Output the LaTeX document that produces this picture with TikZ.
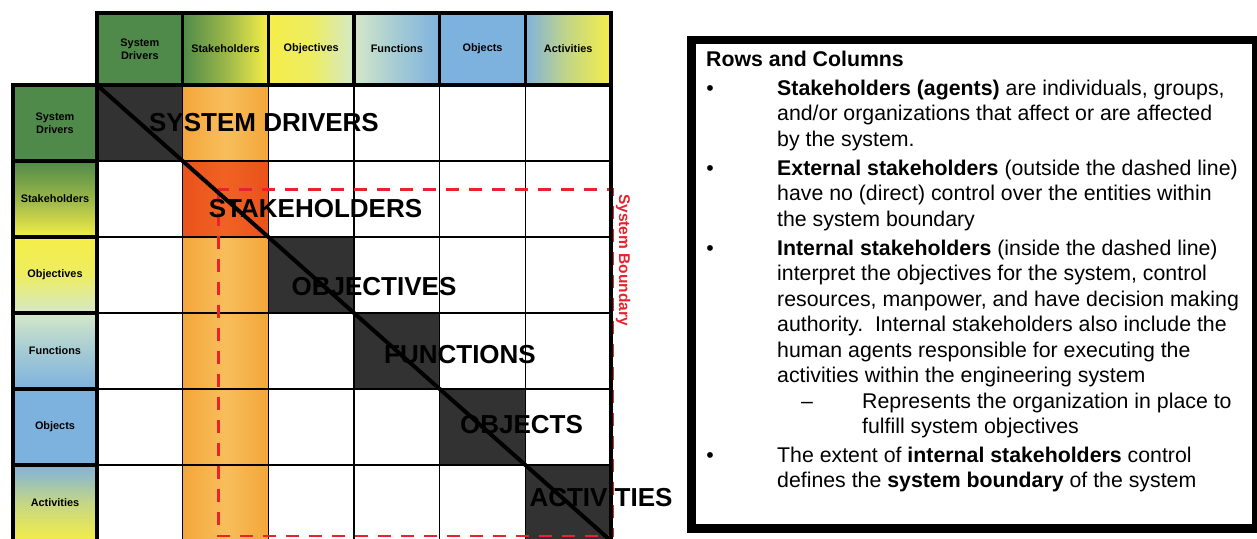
\documentclass[tikz,border=0pt]{standalone}
\usepackage{fontspec}
\setmainfont{Liberation Sans}
\definecolor{grn}{RGB}{80,138,74}
\definecolor{yel}{RGB}{244,238,72}
\definecolor{pal}{RGB}{212,232,200}
\definecolor{blu}{RGB}{126,178,222}
\definecolor{org}{RGB}{243,166,58}
\definecolor{orgl}{RGB}{248,190,92}
\definecolor{redA}{RGB}{234,82,26}
\definecolor{redB}{RGB}{240,98,36}
\definecolor{dk}{RGB}{50,50,50}
\definecolor{bred}{RGB}{234,34,46}
\tikzset{
  cell/.style={anchor=north west, draw=black, line width=1.3pt, minimum width=85.67pt, minimum height=76pt, inner sep=0pt, outer sep=0pt},
  plain/.style={fill=white},
  orangecol/.style={left color=org, right color=org, middle color=orgl},
  darkcell/.style={fill=dk},
  redcell/.style={left color=redA, right color=redA, middle color=redB},
  hdr/.style={anchor=north west, draw=black, line width=3.5pt, minimum width=85.67pt, minimum height=72pt, inner sep=1pt, outer sep=0pt, align=center, font=\fontsize{10.9}{12.5}\selectfont\bfseries},
  lbl/.style={anchor=north west, draw=black, line width=3.5pt, minimum width=84pt, minimum height=76pt, inner sep=1pt, outer sep=0pt, align=center, font=\fontsize{10.9}{12.5}\selectfont\bfseries},
  diag/.style={anchor=base, inner sep=0pt, font=\fontsize{26}{30}\selectfont\bfseries},
  bdry/.style={draw=bred, line width=2.6pt, dash pattern=on 13pt off 10pt},
  body/.style={anchor=base west, inner sep=0pt, font=\fontsize{21.3}{25}\selectfont},
  bul/.style={anchor=base, inner sep=0pt, font=\fontsize{21.3}{25}\selectfont}
}
\begin{document}
\begin{tikzpicture}[x=1pt,y=-1pt]
\useasboundingbox (0,0) rectangle (1257,538);
\fill[white] (0,0) rectangle (1257,538);

% grid cells
\foreach \r in {0,...,5}{
  \foreach \c in {0,...,5}{
    \def\st{plain}
    \ifnum\c=1 \def\st{orangecol}\fi
    \ifnum\r=\c \def\st{darkcell}\fi
    \ifnum\r=1 \ifnum\c=1 \def\st{redcell}\fi\fi
    \node[cell,\st] (cell-\r-\c) at ({97+\c*85.67},{85+\r*76}) {};
  }
}

% system boundary
\coordinate (sbnw) at (218.3,189.5);
\coordinate (sbse) at (613,536);
\draw[bdry] (sbnw) rectangle (sbse);

% diagonal
\draw[line width=4pt] (cell-0-0.north west) -- (cell-5-5.south east);

% diagonal labels
\node[diag] (dl0) at (264,131) {SYSTEM DRIVERS};
\node[diag] (dl1) at (315.5,217) {STAKEHOLDERS};
\node[diag] (dl2) at (374,295.5) {OBJECTIVES};
\node[diag] (dl3) at (460,363) {FUNCTIONS};
\node[diag] (dl4) at (521.5,433) {OBJECTS};
\node[diag] (dl5) at (601,506) {ACTIVITIES};

% header row
\node[hdr, fill=grn] (h0) at (97,13) {System\\Drivers};
\node[hdr, left color=grn, right color=yel, middle color=grn!55!yel] (h1) at (182.67,13) {Stakeholders};
\node[hdr, left color=yel, right color=pal, middle color=yel!80!pal] (h2) at (268.34,13) {Objectives};
\node[hdr, left color=pal, right color=blu, middle color=pal!45!blu] (h3) at (354.01,13) {Functions};
\node[hdr, fill=blu] (h4) at (439.68,13) {Objects};
\node[hdr, left color=blu, right color=yel, middle color=blu!40!yel] (h5) at (525.35,13) {Activities};

% left column
\node[lbl, fill=grn] (r0) at (13,85) {System\\Drivers};
\node[lbl, top color=grn, bottom color=yel, middle color=grn!55!yel] (r1) at (13,161) {Stakeholders};
\node[lbl, top color=yel, bottom color=pal, middle color=yel!80!pal] (r2) at (13,237) {Objectives};
\node[lbl, top color=pal, bottom color=blu, middle color=pal!45!blu] (r3) at (13,313) {Functions};
\node[lbl, fill=blu] (r4) at (13,389) {Objects};
\node[lbl, top color=blu, bottom color=yel, middle color=blu!40!yel] (r5) at (13,465) {Activities};

% right border of grid
\draw[line width=3.5pt] (cell-0-5.north east) -- (cell-5-5.south east);

% system boundary label
\node[rotate=-90, text=bred, inner sep=0pt, font=\fontsize{15.5}{17}\selectfont\bfseries] (sbl) at (623,260) {System Boundary};

% text box
\node[draw=black, line width=8.5pt, anchor=north west, minimum width=564.5pt, minimum height=488.5pt, inner sep=0pt] (box) at (687,35.5) {};

\node[body] (t0) at (706,66) {\textbf{Rows and Columns}};
\node[bul] (b1) at (710,95) {•};
\node[body] (t1) at (777,95) {\textbf{Stakeholders (agents)} are individuals, groups,};
\node[body] (t2) at (777,120.5) {and/or organizations that affect or are affected};
\node[body] (t3) at (777,146) {by the system.};
\node[bul] (b2) at (710,175) {•};
\node[body] (t4) at (777,175) {\textbf{External stakeholders} (outside the dashed line)};
\node[body] (t5) at (777,200.5) {have no (direct) control over the entities within};
\node[body] (t6) at (777,226) {the system boundary};
\node[bul] (b3) at (710,255) {•};
\node[body] (t7) at (777,255) {\textbf{Internal stakeholders} (inside the dashed line)};
\node[body] (t8) at (777,280.5) {interpret the objectives for the system, control};
\node[body] (t9) at (777,306) {resources, manpower, and have decision making};
\node[body] (t10) at (777,331.5) {authority.\ \ Internal stakeholders also include the};
\node[body] (t11) at (777,357) {human agents responsible for executing the};
\node[body] (t12) at (777,382.5) {activities within the engineering system};
\node[bul] (d1) at (807,408) {–};
\node[body] (t13) at (862,408) {Represents the organization in place to};
\node[body] (t14) at (862,433.5) {fulfill system objectives};
\node[bul] (b4) at (710,462) {•};
\node[body] (t15) at (777,462) {The extent of \textbf{internal stakeholders} control};
\node[body] (t16) at (777,487.5) {defines the \textbf{system boundary} of the system};
\end{tikzpicture}
\end{document}
